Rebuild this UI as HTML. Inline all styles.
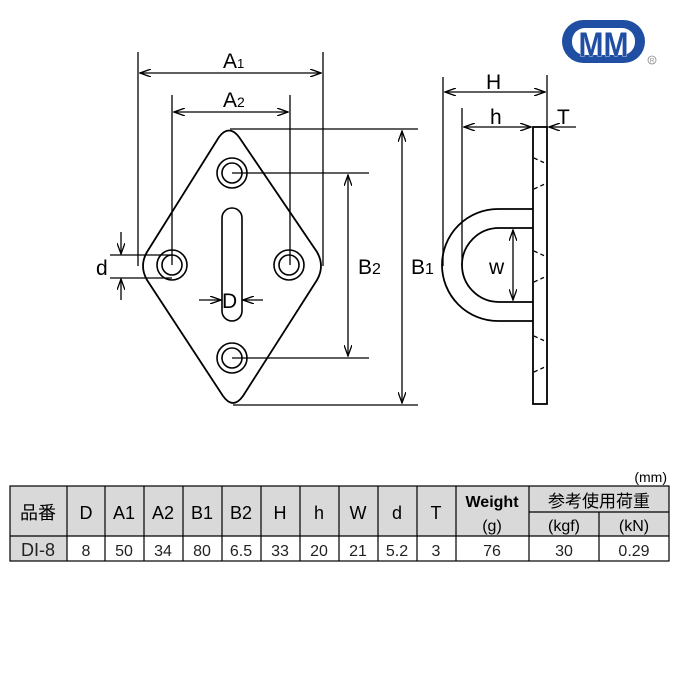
<!DOCTYPE html>
<html><head><meta charset="utf-8"><style>
body{margin:0;background:#fff;}
svg{display:block;font-family:"Liberation Sans","Noto Sans CJK JP",sans-serif;}
</style></head><body>
<svg width="680" height="680" viewBox="0 0 680 680" xmlns="http://www.w3.org/2000/svg">
<defs>
<marker id="ar" markerWidth="12" markerHeight="8" refX="11" refY="4" orient="auto-start-reverse" markerUnits="userSpaceOnUse">
<path d="M0,0 L11,4 L0,8" fill="none" stroke="#000" stroke-width="1.3"/>
</marker>
</defs>
<g stroke="#000" stroke-width="1.6" fill="none">
<path d="M219,137 Q229,124 239,137 L317,252 Q325,266 317,280 L243,396 Q233,410 223,396 L147,280 Q139,266 147,252 Z" stroke-width="1.8"/>
<circle cx="232" cy="173" r="15"/><circle cx="232" cy="173" r="10"/>
<circle cx="172" cy="265" r="15"/><circle cx="172" cy="265" r="10"/>
<circle cx="289" cy="265" r="15"/><circle cx="289" cy="265" r="10"/>
<circle cx="232" cy="358" r="15"/><circle cx="232" cy="358" r="10"/>
<rect x="222" y="208" width="20" height="113" rx="10"/>
</g>
<g stroke="#000" stroke-width="1.3" fill="none">
<line x1="138" y1="52" x2="138" y2="266"/><line x1="323" y1="52" x2="323" y2="266"/>
<line x1="140" y1="73" x2="321" y2="73" marker-start="url(#ar)" marker-end="url(#ar)"/>
<line x1="172" y1="95" x2="172" y2="265"/><line x1="290" y1="95" x2="290" y2="265"/>
<line x1="174" y1="112" x2="288" y2="112" marker-start="url(#ar)" marker-end="url(#ar)"/>
<line x1="230" y1="129" x2="418" y2="129"/><line x1="233" y1="405" x2="418" y2="405"/>
<line x1="402" y1="131" x2="402" y2="403" marker-start="url(#ar)" marker-end="url(#ar)"/>
<line x1="232" y1="173" x2="369" y2="173"/><line x1="232" y1="358" x2="369" y2="358"/>
<line x1="348" y1="175" x2="348" y2="356" marker-start="url(#ar)" marker-end="url(#ar)"/>
<line x1="110" y1="255" x2="172" y2="255"/><line x1="110" y1="278" x2="172" y2="278"/>
<line x1="121" y1="232" x2="121" y2="254" marker-end="url(#ar)"/>
<line x1="121" y1="300" x2="121" y2="279" marker-end="url(#ar)"/>
<line x1="199" y1="300" x2="221" y2="300" marker-end="url(#ar)"/>
<line x1="263" y1="300" x2="243" y2="300" marker-end="url(#ar)"/>
<line x1="443" y1="77" x2="443" y2="266"/><line x1="547" y1="75" x2="547" y2="127"/>
<line x1="445" y1="92" x2="545" y2="92" marker-start="url(#ar)" marker-end="url(#ar)"/>
<line x1="462" y1="108" x2="462" y2="266"/>
<line x1="464" y1="127" x2="531" y2="127" marker-start="url(#ar)" marker-end="url(#ar)"/>
<line x1="576" y1="127" x2="549" y2="127" marker-end="url(#ar)"/>
<line x1="513" y1="230" x2="513" y2="300" marker-start="url(#ar)" marker-end="url(#ar)"/>
</g>
<g stroke="#000" stroke-width="1.8" fill="none">
<rect x="533" y="127" width="14" height="277"/>
<path d="M533,209 L498,209 A56,56 0 0 0 498,321 L533,321"/>
<path d="M533,228 L499,228 A37,37 0 0 0 499,302 L533,302"/>
</g>
<g stroke="#000" stroke-width="1.3" stroke-dasharray="4,3">
<line x1="534" y1="158" x2="547" y2="164"/><line x1="534" y1="189" x2="547" y2="183"/>
<line x1="534" y1="251" x2="547" y2="257"/><line x1="534" y1="282" x2="547" y2="276"/>
<line x1="534" y1="336" x2="547" y2="342"/><line x1="534" y1="372" x2="547" y2="366"/>
</g>
<g font-size="21" fill="#000">
<text x="223" y="68">A<tspan font-size="13">1</tspan></text>
<text x="223" y="107">A<tspan font-size="14">2</tspan></text>
<text x="358" y="274">B<tspan font-size="16">2</tspan></text>
<text x="411" y="274">B<tspan font-size="16">1</tspan></text>
<text x="96" y="275">d</text>
<text x="222" y="308">D</text>
<text x="486" y="89">H</text>
<text x="490" y="124">h</text>
<text x="557" y="124">T</text>
<text x="489" y="274">w</text>
</g>
<rect x="562" y="20" width="83" height="43" rx="21.5" fill="#1f4ea3"/>
<rect x="572" y="28" width="63" height="27" rx="13" fill="#fff"/>
<text x="603.5" y="56" font-size="34" font-weight="bold" fill="#1f4ea3" text-anchor="middle" textLength="50" lengthAdjust="spacingAndGlyphs" stroke="#fff" stroke-width="0.8" paint-order="stroke">MM</text>
<circle cx="652" cy="60" r="4" fill="none" stroke="#888" stroke-width="0.8"/>
<text x="652" y="62.5" font-size="6" fill="#888" text-anchor="middle">R</text>
<text x="667" y="482" font-size="14" text-anchor="end">(mm)</text>
<rect x="10" y="486" width="446" height="50" fill="#d9d9d9"/>
<rect x="456" y="486" width="213" height="50" fill="#d9d9d9"/>
<rect x="10" y="536" width="57" height="25" fill="#d9d9d9"/>
<g stroke="#000" stroke-width="1.2" fill="none">
<rect x="10" y="486" width="659" height="75"/>
<line x1="10" y1="536" x2="669" y2="536"/>
<line x1="529" y1="512" x2="669" y2="512"/>
<line x1="67" y1="486" x2="67" y2="561"/><line x1="105" y1="486" x2="105" y2="561"/>
<line x1="144" y1="486" x2="144" y2="561"/><line x1="183" y1="486" x2="183" y2="561"/>
<line x1="222" y1="486" x2="222" y2="561"/><line x1="261" y1="486" x2="261" y2="561"/>
<line x1="300" y1="486" x2="300" y2="561"/><line x1="339" y1="486" x2="339" y2="561"/>
<line x1="378" y1="486" x2="378" y2="561"/><line x1="417" y1="486" x2="417" y2="561"/>
<line x1="456" y1="486" x2="456" y2="561"/><line x1="529" y1="486" x2="529" y2="561"/>
<line x1="599" y1="512" x2="599" y2="561"/>
</g>
<g font-size="18" text-anchor="middle" fill="#000">
<text x="38" y="519">品番</text>
<text x="86" y="519">D</text><text x="124" y="519">A1</text><text x="163" y="519">A2</text>
<text x="202" y="519">B1</text><text x="241" y="519">B2</text><text x="280" y="519">H</text>
<text x="319" y="519">h</text><text x="358" y="519">W</text><text x="397" y="519">d</text>
<text x="436" y="519">T</text>
<text x="492" y="507" font-size="16" font-weight="bold">Weight</text>
<text x="492" y="531" font-size="16">(g)</text>
<text x="599" y="507" font-size="17">参考使用荷重</text>
<text x="564" y="531" font-size="16">(kgf)</text>
<text x="634" y="531" font-size="16">(kN)</text>
<g font-size="16" fill="#222">
<text x="38" y="556" font-size="18">DI-8</text>
<text x="86" y="556">8</text><text x="124" y="556">50</text><text x="163" y="556">34</text>
<text x="202" y="556">80</text><text x="241" y="556">6.5</text><text x="280" y="556">33</text>
<text x="319" y="556">20</text><text x="358" y="556">21</text><text x="397" y="556">5.2</text>
<text x="436" y="556">3</text><text x="492" y="556">76</text><text x="564" y="556">30</text>
<text x="634" y="556">0.29</text>
</g>
</g>
</svg>
</body></html>
